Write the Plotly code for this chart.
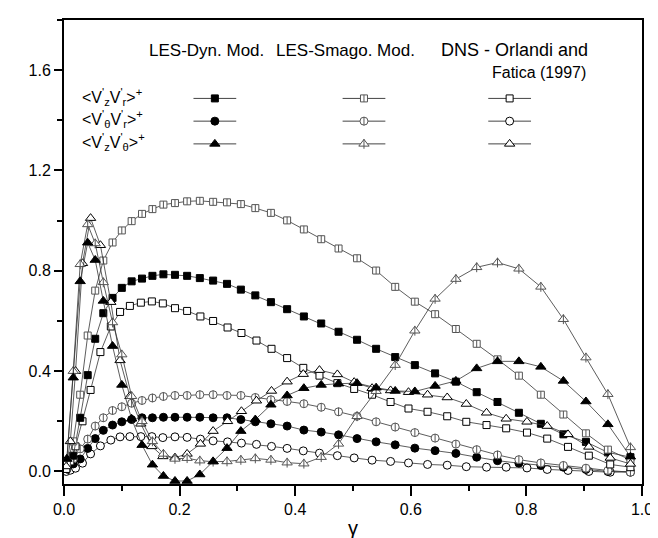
import plotly.graph_objects as go

# ---------------- data ----------------
x_les = [0.005, 0.016, 0.028, 0.041, 0.054, 0.068, 0.084, 0.100, 0.117, 0.135, 0.153, 0.172,
         0.192, 0.213, 0.235, 0.258, 0.282, 0.306, 0.331, 0.358, 0.386, 0.415, 0.445, 0.475,
         0.507, 0.540, 0.573, 0.607, 0.642, 0.678, 0.714, 0.750, 0.787, 0.825, 0.864, 0.903,
         0.941, 0.980]
x_dns = [0.004, 0.011, 0.020, 0.032, 0.046, 0.063, 0.081, 0.097, 0.114, 0.133, 0.152, 0.171,
         0.192, 0.213, 0.236, 0.258, 0.283, 0.307, 0.333, 0.359, 0.386, 0.414, 0.442, 0.473,
         0.502, 0.533, 0.565, 0.596, 0.629, 0.663, 0.696, 0.731, 0.765, 0.801, 0.836, 0.872,
         0.908, 0.945, 0.980]

dyn_vzvr = [0.03, 0.063, 0.214, 0.384, 0.529, 0.631, 0.692, 0.732, 0.758, 0.769, 0.780, 0.786,
            0.784, 0.780, 0.771, 0.761, 0.748, 0.725, 0.702, 0.675, 0.647, 0.618, 0.590, 0.557,
            0.525, 0.489, 0.456, 0.424, 0.391, 0.358, 0.316, 0.277, 0.234, 0.190, 0.148, 0.118,
            0.076, 0.057]
smg_vzvr = [0.03, 0.12, 0.306, 0.542, 0.721, 0.841, 0.913, 0.961, 0.998, 1.027, 1.046, 1.064,
            1.070, 1.077, 1.079, 1.075, 1.073, 1.066, 1.050, 1.031, 1.001, 0.965, 0.926, 0.889,
            0.850, 0.801, 0.736, 0.677, 0.627, 0.568, 0.509, 0.447, 0.382, 0.306, 0.227, 0.152,
            0.087, 0.046]
dns_vzvr = [0.01, 0.04, 0.10, 0.20, 0.325, 0.476, 0.578, 0.636, 0.660, 0.673, 0.678, 0.670,
            0.651, 0.640, 0.618, 0.600, 0.574, 0.552, 0.522, 0.489, 0.452, 0.413, 0.382, 0.352,
            0.329, 0.306, 0.277, 0.251, 0.238, 0.220, 0.198, 0.185, 0.172, 0.155, 0.131, 0.098,
            0.063, 0.028, 0.017]

dyn_vtvr = [0.01, 0.03, 0.050, 0.092, 0.131, 0.164, 0.185, 0.198, 0.207, 0.214, 0.214, 0.216,
            0.216, 0.216, 0.216, 0.214, 0.214, 0.207, 0.198, 0.190, 0.181, 0.165, 0.157, 0.146,
            0.131, 0.118, 0.106, 0.093, 0.083, 0.072, 0.057, 0.043, 0.033, 0.024, 0.017, 0.008,
            0.0, -0.003]
smg_vtvr = [0.01, 0.05, 0.09, 0.129, 0.181, 0.214, 0.243, 0.258, 0.272, 0.283, 0.293, 0.299,
            0.303, 0.303, 0.306, 0.306, 0.303, 0.303, 0.295, 0.286, 0.279, 0.270, 0.256, 0.238,
            0.220, 0.198, 0.177, 0.155, 0.133, 0.109, 0.087, 0.066, 0.047, 0.034, 0.024, 0.013,
            0.004, -0.003]
dns_vtvr = [0.0, 0.005, 0.013, 0.033, 0.070, 0.102, 0.125, 0.138, 0.139, 0.139, 0.139, 0.135,
            0.138, 0.136, 0.129, 0.122, 0.118, 0.113, 0.108, 0.100, 0.092, 0.082, 0.073, 0.063,
            0.054, 0.045, 0.040, 0.034, 0.028, 0.025, 0.019, 0.017, 0.017, 0.014, 0.008, 0.004,
            0.0, -0.003, 0.0]

dyn_vzvt = [0.05, 0.374, 0.758, 0.912, 0.843, 0.68, 0.50, 0.345, 0.21, 0.105, 0.027, -0.018,
            -0.038, -0.038, -0.012, 0.04, 0.093, 0.161, 0.207, 0.266, 0.303, 0.332, 0.345, 0.35,
            0.352, 0.334, 0.321, 0.319, 0.341, 0.361, 0.411, 0.439, 0.439, 0.417, 0.361, 0.279,
            0.188, 0.059]
smg_vzvt = [0.05, 0.40, 0.826, 0.985, 0.909, 0.754, 0.594, 0.466, 0.30, 0.20, 0.12, 0.07,
            0.05, 0.053, 0.043, 0.039, 0.040, 0.046, 0.052, 0.046, 0.035, 0.031, 0.057, 0.11,
            0.22, 0.32, 0.424, 0.561, 0.688, 0.767, 0.814, 0.833, 0.808, 0.736, 0.607, 0.454,
            0.308, 0.096]
dns_vzvt = [0.02, 0.12, 0.40, 0.83, 1.01, 0.902, 0.675, 0.443, 0.30, 0.19, 0.10, 0.06,
            0.055, 0.07, 0.11, 0.161, 0.20, 0.240, 0.282, 0.321, 0.358, 0.388, 0.404, 0.387,
            0.356, 0.332, 0.323, 0.316, 0.306, 0.295, 0.269, 0.234, 0.210, 0.198, 0.181, 0.148,
            0.098, 0.054, 0.03]

row_labels = ["&lt;V<sup>'</sup><sub>z</sub>V<sup>'</sup><sub>r</sub>&gt;<sup>+</sup>",
              "&lt;V<sup>'</sup><sub>θ</sub>V<sup>'</sup><sub>r</sub>&gt;<sup>+</sup>",
              "&lt;V<sup>'</sup><sub>z</sub>V<sup>'</sup><sub>θ</sub>&gt;<sup>+</sup>"]
header_texts = ["LES-Dyn. Mod.", "LES-Smago. Mod.", "DNS - Orlandi and"]
header_text2 = "Fatica (1997)"
x_ticks = [0.0, 0.2, 0.4, 0.6, 0.8, 1.0]
y_ticks = [0.0, 0.4, 0.8, 1.2, 1.6]

# ---------------- styles ----------------
FONT = "Arial, 'Liberation Sans', Helvetica, sans-serif"
LINE = dict(color="#333333", width=0.8)
GRAY = "#555555"
sizes = {"square": 7, "circle": 8, "triangle-up": 9}
models = {
    "dyn": dict(fill="black", edge="black", bar=False),
    "smg": dict(fill="white", edge=GRAY, bar=True),
    "dns": dict(fill="white", edge="black", bar=False),
}

fig = go.Figure()


def add_series(x, y, sym, model, xaxis="x", yaxis="y", mode="lines+markers"):
    st = models[model]
    size = sizes[sym]
    fig.add_trace(go.Scatter(
        x=x, y=y, mode=mode, xaxis=xaxis, yaxis=yaxis, line=LINE,
        marker=dict(symbol=sym, size=size, color=st["fill"],
                    line=dict(color=st["edge"], width=1)),
        showlegend=False, hoverinfo="skip"))
    if st["bar"]:
        fig.add_trace(go.Scatter(
            x=x, y=y, mode="markers", xaxis=xaxis, yaxis=yaxis,
            marker=dict(symbol="line-ns", size=size - 2,
                        line=dict(color=st["edge"], width=1)),
            showlegend=False, hoverinfo="skip"))


series = [
    (x_dns, dns_vtvr, "circle", "dns"),
    (x_les, dyn_vtvr, "circle", "dyn"),
    (x_les, smg_vtvr, "circle", "smg"),
    (x_dns, dns_vzvr, "square", "dns"),
    (x_les, dyn_vzvr, "square", "dyn"),
    (x_les, smg_vzvr, "square", "smg"),
    (x_dns, dns_vzvt, "triangle-up", "dns"),
    (x_les, smg_vzvt, "triangle-up", "smg"),
    (x_les, dyn_vzvt, "triangle-up", "dyn"),
]
for x, y, sym, model in series:
    add_series(x, y, sym, model)

# ---------------- legend table (paper-fraction overlay axes) ----------------
col_x = [0.261, 0.519, 0.771]
row_y = [0.831, 0.782, 0.733]
half_len = 0.037
row_syms = ["square", "circle", "triangle-up"]
col_models = ["dyn", "smg", "dns"]
for r, sym in enumerate(row_syms):
    for c, model in enumerate(col_models):
        fig.add_trace(go.Scatter(
            x=[col_x[c] - half_len, col_x[c] + half_len], y=[row_y[r]] * 2,
            mode="lines", xaxis="x2", yaxis="y2", line=dict(color="#444444", width=1),
            showlegend=False, hoverinfo="skip"))
        add_series([col_x[c]], [row_y[r]], sym, model, xaxis="x2", yaxis="y2", mode="markers")

annotations = [
    dict(text=header_texts[0], x=0.1436, y=0.935, xref="paper", yref="paper",
         xanchor="left", yanchor="middle", showarrow=False,
         font=dict(family=FONT, size=17, color="black")),
    dict(text=header_texts[1], x=0.364, y=0.935, xref="paper", yref="paper",
         xanchor="left", yanchor="middle", showarrow=False,
         font=dict(family=FONT, size=17, color="black")),
    dict(text=header_texts[2], x=0.910, y=0.935, xref="paper", yref="paper",
         xanchor="right", yanchor="middle", showarrow=False,
         font=dict(family=FONT, size=18, color="black")),
    dict(text=header_text2, x=0.9066, y=0.886, xref="paper", yref="paper",
         xanchor="right", yanchor="middle", showarrow=False,
         font=dict(family=FONT, size=16, color="black")),
]
for r, lab in enumerate(row_labels):
    annotations.append(dict(text=lab, x=0.028, y=row_y[r] + 0.004, xref="paper", yref="paper",
                            xanchor="left", yanchor="middle", showarrow=False,
                            font=dict(family=FONT, size=16, color="black")))

axis_common = dict(showgrid=False, zeroline=False, showline=True, linecolor="black",
                   linewidth=2, mirror=True, ticks="outside", tickwidth=2,
                   tickcolor="black", tickfont=dict(family=FONT, size=16, color="black"))

fig.update_layout(
    width=658, height=538,
    margin=dict(l=56, r=24, t=10, b=57),
    paper_bgcolor="white", plot_bgcolor="white",
    font=dict(family=FONT, color="black"),
    annotations=annotations,
    xaxis=dict(range=[0, 1.0], tickvals=x_ticks, ticktext=[f"{v:.1f}" for v in x_ticks],
               ticklen=10, minor=dict(dtick=0.1, ticklen=5, tickwidth=2, ticks="outside",
                                      tickcolor="black"),
               title=dict(text="γ", font=dict(family=FONT, size=20), standoff=4),
               **axis_common),
    yaxis=dict(range=[-0.05, 1.8], tickvals=y_ticks, ticktext=[f"{v:.1f}" for v in y_ticks],
               ticklen=8, minor=dict(dtick=0.2, ticklen=5, tickwidth=2, ticks="outside",
                                     tickcolor="black"),
               **axis_common),
    xaxis2=dict(overlaying="x", range=[0, 1], visible=False),
    yaxis2=dict(overlaying="y", range=[0, 1], visible=False),
)

fig.write_html("out.html")
